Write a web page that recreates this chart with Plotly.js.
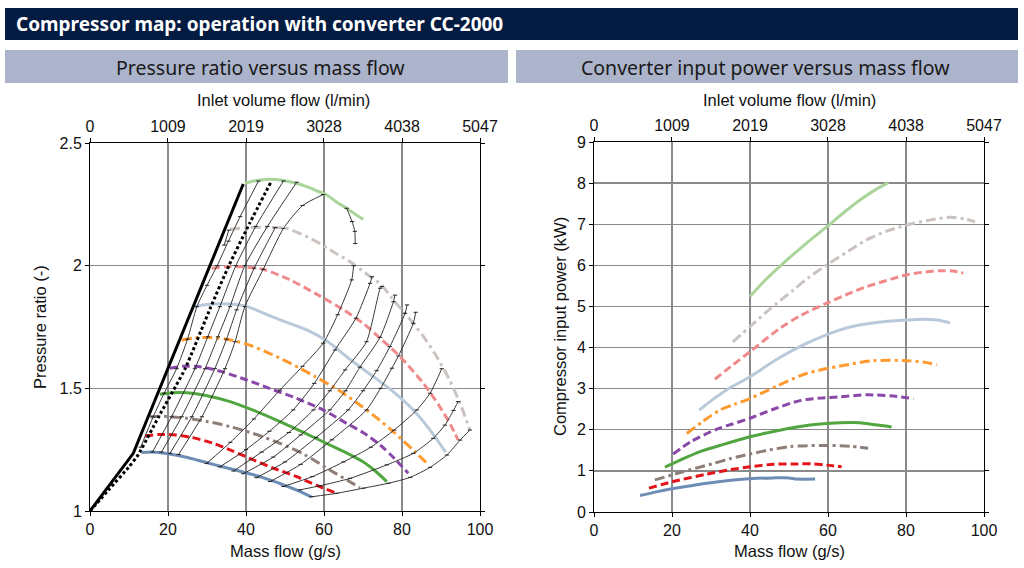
<!DOCTYPE html>
<html>
<head>
<meta charset="utf-8">
<script src="https://cdn.plot.ly/plotly-3.0.1.min.js"></script>
<style>
html,body{margin:0;padding:0;background:#fff;}
#chart{width:1024px;height:568px;}
</style>
</head>
<body>
<div id="chart"></div>
<script>
// ---------- axis ticks ----------
const massTicks = [0, 20, 40, 60, 80, 100];
const volTicks = [0, 1009, 2019, 3028, 4038, 5047];
const ratioTicks = [1, 1.5, 2, 2.5];
const powerTicks = [0, 1, 2, 3, 4, 5, 6, 7, 8, 9];

// ---------- speed-line styles (lowest to highest speed) ----------
const speedColors = ['#6d8db5', '#e3141c', '#8d7f78', '#52a640', '#8a48a8', '#ff9a2e', '#b9c9d9', '#f08a8a', '#cbc3bf', '#a9d49a'];
const speedDashes = ['solid', '8px,4px', '10px,4px,3px,4px', 'solid', '8px,4px', '10px,4px,3px,4px', 'solid', '8px,4px', '10px,4px,3px,4px', 'solid'];

// ---------- left: pressure ratio vs mass flow ----------
const prFlow1 = [13.2, 16, 19.7, 25, 31.6, 37, 41.9, 45.5, 48.7, 53, 56.8];
const prRatio1 = [1.238, 1.240, 1.234, 1.218, 1.19, 1.168, 1.148, 1.13, 1.112, 1.085, 1.057];
const prFlow2 = [14.1, 17.9, 22, 26, 31.6, 36.5, 41.9, 47, 53, 58, 62.8];
const prRatio2 = [1.306, 1.312, 1.31, 1.30, 1.276, 1.245, 1.208, 1.175, 1.14, 1.105, 1.075];
const prFlow3 = [15.4, 19, 24.8, 30, 35.9, 42, 48.7, 55, 61.5, 66, 69.2];
const prRatio3 = [1.384, 1.386, 1.378, 1.365, 1.344, 1.315, 1.276, 1.23, 1.167, 1.125, 1.095];
const prFlow4 = [17.9, 21, 24.8, 30, 35.9, 42, 48.7, 55, 61.5, 66, 70, 73, 76.1];
const prRatio4 = [1.476, 1.482, 1.482, 1.47, 1.446, 1.41, 1.364, 1.318, 1.269, 1.235, 1.201, 1.165, 1.12];
const prFlow5 = [20.5, 24, 28.2, 34, 40.2, 46, 53, 60, 65.8, 70, 74.4, 78, 81.6];
const prRatio5 = [1.582, 1.59, 1.588, 1.567, 1.534, 1.5, 1.459, 1.41, 1.357, 1.32, 1.269, 1.215, 1.154];
const prFlow6 = [23.5, 27, 31, 35, 40.2, 45, 49.6, 53.8, 57.7, 63.7, 69.2, 73.5, 77.8, 83.3, 87];
const prRatio6 = [1.697, 1.706, 1.707, 1.70, 1.68, 1.65, 1.616, 1.582, 1.548, 1.493, 1.432, 1.38, 1.323, 1.242, 1.185];
const prFlow7 = [26.5, 30, 34, 39.7, 44, 48.7, 55.6, 61, 65.8, 72.6, 77.5, 82.9, 87.2, 91.2];
const prRatio7 = [1.833, 1.842, 1.845, 1.836, 1.81, 1.779, 1.738, 1.69, 1.629, 1.548, 1.49, 1.412, 1.33, 1.24];
const prFlow8 = [31.2, 35, 38.5, 44.4, 51.3, 58, 65, 70, 74.4, 79.5, 85.5, 89.7, 92.5, 94.4];
const prRatio8 = [1.989, 1.996, 1.996, 1.985, 1.942, 1.885, 1.82, 1.765, 1.704, 1.629, 1.52, 1.425, 1.35, 1.289];
const prFlow9 = [35.9, 40, 45.3, 50.4, 54, 58.1, 62, 66.7, 71, 74.5, 77.8, 82.9, 86, 88.9, 92, 94.9, 97.4];
const prRatio9 = [2.148, 2.155, 2.156, 2.152, 2.13, 2.098, 2.06, 2.016, 1.965, 1.925, 1.86, 1.765, 1.70, 1.629, 1.54, 1.439, 1.33];
const prFlow10 = [39.7, 42, 43.6, 46, 49.6, 52.5, 55.6, 58, 60.7, 63, 65.8, 68, 70.1];
const prRatio10 = [2.336, 2.345, 2.349, 2.352, 2.347, 2.337, 2.322, 2.306, 2.288, 2.262, 2.234, 2.21, 2.189];

// surge line and surge-margin line
const surgeFlow = [0, 11.1, 39.3];
const surgeRatio = [1, 1.235, 2.333];
const marginFlow = [0, 5, 10, 12.4, 17.6, 24.4, 31.0, 35.6, 41.0, 46.6];
const marginRatio = [1, 1.09, 1.18, 1.23, 1.384, 1.58, 1.833, 2.0, 2.175, 2.347];

const gridLineFlows = [
  [13.0, 16.2, 19.0, 22.2, 25.0, 27.4, 30.0, 32.6, 35.5, 38.5, 43.2],
  [16.0, 20.9, 26.9, 30.2, 33.3, 37.4, 42.5, 49.6],
  [18.3, 23.5, 29.5, 32.8, 35.9, 39.7, 45.5, 53.0],
  [20.5, 26.1, 32.0, 35.0, 37.6, 42.1, 47.5],
  [22.7, 28.7, 34.6, 37.2, 39.7, 44.4, 49.6, 54.5, 59.8],
  [34.4, 35.6],
  [65.8, 67.2, 67.9, 68.0],
  [29.9, 36, 42, 48.7, 54.5, 59.8, 63.5, 67.1, 67.6],
  [33.3, 40, 46, 52.1, 57.5, 62.8, 68.2, 71.8, 72.3],
  [36.8, 44, 51, 57.3, 61.5, 65.4, 70.9, 74.4, 74.8],
  [39.3, 47, 54, 61.5, 65.5, 69.2, 74.4, 77.8, 78.2],
  [42.7, 50, 58, 66.2, 70, 73.5, 76.9, 80.8, 81.3],
  [46.2, 54, 62, 70.9, 74.5, 77.4, 79.1, 82.9, 83.5],
  [49.6, 57, 65, 72, 78, 83.8, 87.2, 90.2],
  [53.8, 59, 66.7, 76.1, 82.9, 88, 91, 93.2, 94.4],
  [56.8, 63.2, 70.1, 76.5, 82.1, 87.2, 91.5, 94.9, 97.4]
];
const gridLineRatios = [
  [1.26, 1.384, 1.48, 1.58, 1.70, 1.833, 1.92, 2.0, 2.1, 2.2, 2.345],
  [1.24, 1.384, 1.58, 1.71, 1.833, 2.0, 2.16, 2.345],
  [1.24, 1.384, 1.58, 1.71, 1.833, 2.0, 2.16, 2.34],
  [1.235, 1.384, 1.58, 1.70, 1.82, 1.99, 2.155],
  [1.23, 1.384, 1.58, 1.69, 1.833, 1.985, 2.152, 2.245, 2.29],
  [2.084, 2.145],
  [2.234, 2.18, 2.14, 2.09],
  [1.194, 1.28, 1.375, 1.493, 1.59, 1.684, 1.80, 1.942, 2.0],
  [1.18, 1.25, 1.325, 1.412, 1.52, 1.656, 1.786, 1.928, 1.955],
  [1.163, 1.24, 1.32, 1.412, 1.49, 1.575, 1.69, 1.908, 1.915],
  [1.152, 1.22, 1.31, 1.412, 1.49, 1.586, 1.708, 1.853, 1.88],
  [1.136, 1.20, 1.30, 1.412, 1.49, 1.572, 1.67, 1.806, 1.84],
  [1.12, 1.19, 1.29, 1.412, 1.50, 1.582, 1.632, 1.765, 1.81],
  [1.10, 1.14, 1.20, 1.26, 1.33, 1.412, 1.48, 1.58],
  [1.086, 1.103, 1.133, 1.188, 1.235, 1.296, 1.35, 1.41, 1.446],
  [1.058, 1.072, 1.093, 1.113, 1.137, 1.178, 1.228, 1.289, 1.33]
];

// ---------- right: converter input power vs mass flow ----------
const pwFlow1 = [11.8, 16, 20.3, 25, 28.9, 34, 40, 46, 50, 52, 56.7];
const pwPower1 = [0.40, 0.49, 0.57, 0.64, 0.70, 0.76, 0.81, 0.83, 0.83, 0.80, 0.80];
const pwFlow2 = [14.1, 20.3, 28.9, 35, 40, 46, 52, 56.2, 59.7, 63.5];
const pwPower2 = [0.58, 0.74, 0.92, 1.03, 1.10, 1.16, 1.17, 1.17, 1.14, 1.10];
const pwFlow3 = [15.6, 22.1, 30.6, 35, 40, 45, 50.3, 58.8, 65.6, 70.3];
const pwPower3 = [0.78, 0.96, 1.18, 1.30, 1.41, 1.51, 1.59, 1.62, 1.60, 1.55];
const pwFlow4 = [18.2, 22.5, 27.2, 33, 40, 46, 52.8, 58, 63.1, 68.2, 72, 76.3];
const pwPower4 = [1.09, 1.28, 1.47, 1.64, 1.83, 1.96, 2.08, 2.14, 2.17, 2.17, 2.12, 2.07];
const pwFlow5 = [20.3, 25, 31.4, 35.5, 40, 46, 52.8, 58, 63.1, 70, 76.8, 81.9];
const pwPower5 = [1.41, 1.72, 2.01, 2.14, 2.28, 2.50, 2.71, 2.77, 2.80, 2.85, 2.82, 2.76];
const pwFlow6 = [23.8, 28, 32.3, 36, 40, 47, 54.5, 63.1, 71.6, 80.2, 85, 87.9];
const pwPower6 = [1.91, 2.21, 2.48, 2.62, 2.76, 3.07, 3.37, 3.55, 3.68, 3.68, 3.64, 3.58];
const pwFlow7 = [27, 30.5, 34, 40, 47, 54.5, 63.1, 68, 74.2, 80, 84.4, 88, 91.3];
const pwPower7 = [2.48, 2.74, 2.97, 3.29, 3.72, 4.10, 4.43, 4.55, 4.63, 4.67, 4.69, 4.67, 4.60];
const pwFlow8 = [31, 35.5, 40, 47.7, 53, 59.7, 65, 69.9, 75, 80.2, 85, 88.7, 92, 94.7];
const pwPower8 = [3.23, 3.57, 3.90, 4.47, 4.78, 5.08, 5.30, 5.48, 5.63, 5.77, 5.84, 5.87, 5.86, 5.81];
const pwFlow9 = [35.6, 40, 45, 51.1, 55, 59.7, 65, 69.9, 75, 80.2, 86, 91.3, 95, 97.7];
const pwPower9 = [4.14, 4.51, 4.93, 5.40, 5.70, 6.01, 6.33, 6.62, 6.83, 6.98, 7.10, 7.17, 7.13, 7.06];
const pwFlow10 = [40, 44, 48.5, 54, 59.7, 64, 68.2, 72, 75.5];
const pwPower10 = [5.24, 5.65, 6.05, 6.50, 6.94, 7.28, 7.59, 7.83, 8.01];

const prFlows = [prFlow1, prFlow2, prFlow3, prFlow4, prFlow5, prFlow6, prFlow7, prFlow8, prFlow9, prFlow10];
const prRatios = [prRatio1, prRatio2, prRatio3, prRatio4, prRatio5, prRatio6, prRatio7, prRatio8, prRatio9, prRatio10];
const pwFlows = [pwFlow1, pwFlow2, pwFlow3, pwFlow4, pwFlow5, pwFlow6, pwFlow7, pwFlow8, pwFlow9, pwFlow10];
const pwPowers = [pwPower1, pwPower2, pwPower3, pwPower4, pwPower5, pwPower6, pwPower7, pwPower8, pwPower9, pwPower10];

// ---------- traces ----------
const traces = [];
for (let i = 0; i < 10; i++) {
  traces.push({
    x: prFlows[i], y: prRatios[i], xaxis: 'x', yaxis: 'y', mode: 'lines',
    line: {color: speedColors[i], width: 3, dash: speedDashes[i], shape: 'spline', smoothing: 0.8},
    hoverinfo: 'skip'
  });
}
for (let k = 0; k < gridLineFlows.length; k++) {
  traces.push({
    x: gridLineFlows[k], y: gridLineRatios[k], xaxis: 'x', yaxis: 'y', mode: 'lines+markers',
    line: {color: '#222', width: 0.9, shape: 'spline', smoothing: 0.6},
    marker: {symbol: 'line-ew', size: 3, line: {color: '#222', width: 1}},
    hoverinfo: 'skip'
  });
}
traces.push({
  x: marginFlow, y: marginRatio, xaxis: 'x', yaxis: 'y', mode: 'lines',
  line: {color: '#000', width: 3, dash: '3px,2.5px', shape: 'spline', smoothing: 0.4}, hoverinfo: 'skip'
});
traces.push({
  x: surgeFlow, y: surgeRatio, xaxis: 'x', yaxis: 'y', mode: 'lines',
  line: {color: '#000', width: 3}, hoverinfo: 'skip'
});
for (let i = 0; i < 10; i++) {
  traces.push({
    x: pwFlows[i], y: pwPowers[i], xaxis: 'x2', yaxis: 'y2', mode: 'lines',
    line: {color: speedColors[i], width: 3, dash: speedDashes[i], shape: 'spline', smoothing: 0.8},
    hoverinfo: 'skip'
  });
}
traces.push({x: [0], y: [1], xaxis: 'x3', yaxis: 'y', mode: 'markers', marker: {opacity: 0}, hoverinfo: 'skip'});
traces.push({x: [0], y: [0], xaxis: 'x4', yaxis: 'y2', mode: 'markers', marker: {opacity: 0}, hoverinfo: 'skip'});

// ---------- layout ----------
const tickFont = {family: 'Liberation Sans, Arial, sans-serif', size: 16, color: '#111'};
const baseAxis = {
  showline: true, linecolor: '#000', linewidth: 1,
  ticks: 'outside', ticklen: 4, tickcolor: '#000', tickwidth: 1,
  zeroline: false, tickfont: tickFont, fixedrange: true
};
const gridStyle = {showgrid: true, gridcolor: '#8a8a8a', gridwidth: 1.4};

const L = {x0: 90 / 1024, x1: 480 / 1024, y0: 1 - 511 / 568, y1: 1 - 143 / 568};
const R = {x0: 594 / 1024, x1: 984 / 1024, y0: 1 - 512 / 568, y1: 1 - 142 / 568};

function px(x) { return x / 1024; }
function py(y) { return 1 - y / 568; }

const titleFont = {family: 'Liberation Sans, Arial, sans-serif', size: 16.5, color: '#111'};
const headFont = {family: 'Noto Sans, Open Sans, sans-serif', size: 19.5, color: '#1a1a1a'};

const layout = {
  width: 1024, height: 568,
  margin: {l: 0, r: 0, t: 0, b: 0},
  paper_bgcolor: '#fff', plot_bgcolor: '#fff',
  showlegend: false,
  xaxis: Object.assign({}, baseAxis, gridStyle, {domain: [L.x0, L.x1], anchor: 'y', range: [0, 100], tickvals: massTicks}),
  xaxis3: Object.assign({}, baseAxis, {overlaying: 'x', side: 'top', anchor: 'y', range: [0, 5047], tickvals: volTicks, showgrid: false}),
  yaxis: Object.assign({}, baseAxis, gridStyle, {domain: [L.y0, L.y1], anchor: 'x', range: [1, 2.5], tickvals: ratioTicks, ticktext: ['1', '1.5', '2', '2.5'], mirror: 'ticks'}),
  xaxis2: Object.assign({}, baseAxis, gridStyle, {domain: [R.x0, R.x1], anchor: 'y2', range: [0, 100], tickvals: massTicks}),
  xaxis4: Object.assign({}, baseAxis, {overlaying: 'x2', side: 'top', anchor: 'y2', range: [0, 5047], tickvals: volTicks, showgrid: false}),
  yaxis2: Object.assign({}, baseAxis, gridStyle, {domain: [R.y0, R.y1], anchor: 'x2', range: [0, 9], tickvals: powerTicks, mirror: 'ticks'}),
  shapes: [
    {type: 'rect', xref: 'paper', yref: 'paper', x0: px(5), x1: px(1018), y0: py(40), y1: py(8), fillcolor: '#041b42', line: {width: 0}, layer: 'below'},
    {type: 'rect', xref: 'paper', yref: 'paper', x0: px(5), x1: px(508), y0: py(83), y1: py(50), fillcolor: '#acb4cb', line: {width: 0}, layer: 'below'},
    {type: 'rect', xref: 'paper', yref: 'paper', x0: px(516), x1: px(1018), y0: py(83), y1: py(50), fillcolor: '#acb4cb', line: {width: 0}, layer: 'below'}
  ],
  annotations: [
    {text: '<b>Compressor map: operation with converter CC-2000</b>', xref: 'paper', yref: 'paper', x: px(14), y: py(24), xanchor: 'left', yanchor: 'middle', showarrow: false,
     font: {family: 'Noto Sans, Open Sans, sans-serif', size: 19, color: '#ffffff'}},
    {text: 'Pressure ratio versus mass flow', xref: 'paper', yref: 'paper', x: px(260), y: py(67), xanchor: 'center', yanchor: 'middle', showarrow: false, font: headFont},
    {text: 'Converter input power versus mass flow', xref: 'paper', yref: 'paper', x: px(765), y: py(67), xanchor: 'center', yanchor: 'middle', showarrow: false, font: headFont},
    {text: 'Inlet volume flow (l/min)', xref: 'paper', yref: 'paper', x: px(283), y: py(100), xanchor: 'center', yanchor: 'middle', showarrow: false, font: titleFont},
    {text: 'Mass flow (g/s)', xref: 'paper', yref: 'paper', x: px(285), y: py(551), xanchor: 'center', yanchor: 'middle', showarrow: false, font: titleFont},
    {text: 'Pressure ratio (-)', xref: 'paper', yref: 'paper', x: px(40), y: py(327), xanchor: 'center', yanchor: 'middle', showarrow: false, textangle: -90, font: titleFont},
    {text: 'Inlet volume flow (l/min)', xref: 'paper', yref: 'paper', x: px(789), y: py(100), xanchor: 'center', yanchor: 'middle', showarrow: false, font: titleFont},
    {text: 'Mass flow (g/s)', xref: 'paper', yref: 'paper', x: px(789), y: py(551), xanchor: 'center', yanchor: 'middle', showarrow: false, font: titleFont},
    {text: 'Compressor input power (kW)', xref: 'paper', yref: 'paper', x: px(560), y: py(327), xanchor: 'center', yanchor: 'middle', showarrow: false, textangle: -90, font: titleFont}
  ]
};

Plotly.newPlot('chart', traces, layout, {staticPlot: true, displayModeBar: false});
</script>
</body>
</html>
